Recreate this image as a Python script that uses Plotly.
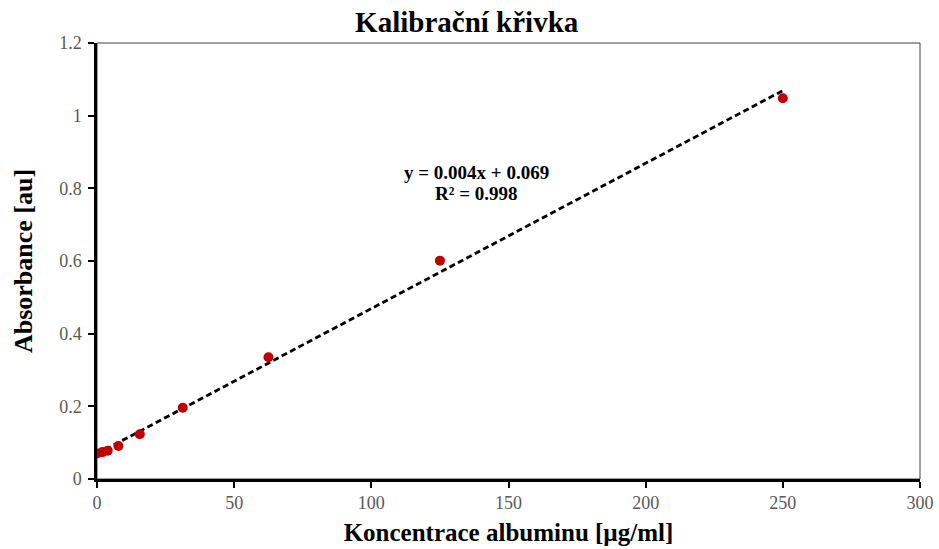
import plotly.graph_objects as go

# Albumin calibration standards
concentration = [0, 1.95, 3.9, 7.8, 15.6, 31.25, 62.5, 125, 250]
absorbance = [0.070, 0.074, 0.078, 0.091, 0.123, 0.196, 0.335, 0.601, 1.048]

# Linear trend line coefficients
slope = 0.004
intercept = 0.069
r_squared = 0.998

x_ticks = [0, 50, 100, 150, 200, 250, 300]
y_ticks = [0, 0.2, 0.4, 0.6, 0.8, 1, 1.2]
y_tick_text = ["0", "0.2", "0.4", "0.6", "0.8", "1", "1.2"]

serif = "Liberation Serif, Times New Roman, serif"

trend_x = [min(concentration), max(concentration)]
trend_y = [slope * v + intercept for v in trend_x]

fig = go.Figure()
fig.add_trace(go.Scatter(
    x=trend_x, y=trend_y, mode="lines",
    line=dict(color="black", width=2.8, dash="6px,3.5px"),
    hoverinfo="skip", showlegend=False,
))
fig.add_trace(go.Scatter(
    x=concentration, y=absorbance, mode="markers",
    marker=dict(color="#C00000", size=10),
    showlegend=False,
))

# thin frame around the plot area
fig.add_shape(type="rect", xref="paper", yref="paper", x0=0, y0=0, x1=1, y1=1,
              line=dict(color="#404040", width=1), layer="below")

# trend line equation and coefficient of determination
label_font = dict(family=serif, size=19, color="black", weight="bold")
fig.add_annotation(
    x=138.3, y=0.843, xref="x", yref="y",
    text=f"y = {slope:.3f}x + {intercept:.3f}",
    showarrow=False, font=label_font,
)
fig.add_annotation(
    x=138.3, y=0.786, xref="x", yref="y",
    text=f"R² = {r_squared:.3f}",
    showarrow=False, font=label_font,
)

fig.update_layout(
    width=939, height=549,
    margin=dict(l=97, r=19, t=43, b=70),
    paper_bgcolor="white", plot_bgcolor="white",
    title=dict(text="<b>Kalibrační křivka</b>", x=0.497, xref="container",
               y=0.96, yref="container", yanchor="middle",
               font=dict(family=serif, size=29, color="black")),
)
fig.update_xaxes(
    range=[0, 300], tickvals=x_ticks, showgrid=False, zeroline=False,
    automargin=False,
    showline=True, linecolor="black", linewidth=2.5,
    ticks="outside", ticklen=6, tickwidth=2, tickcolor="black",
    tickfont=dict(family=serif, size=18, color="#595959"),
    title=dict(text="<b>Koncentrace albuminu [µg/ml]</b>", standoff=12,
               font=dict(family=serif, size=25, color="black")),
)
fig.update_yaxes(
    range=[0, 1.2], tickvals=y_ticks, ticktext=y_tick_text, showgrid=False, zeroline=False,
    automargin=False,
    showline=True, linecolor="black", linewidth=2.5,
    ticks="outside", ticklen=6, tickwidth=2, tickcolor="black",
    ticklabelstandoff=3,
    tickfont=dict(family=serif, size=18, color="#595959"),
    title=dict(text="<b>Absorbance [au]</b>", standoff=20,
               font=dict(family=serif, size=26, color="black")),
)

fig.write_html("out.html")
